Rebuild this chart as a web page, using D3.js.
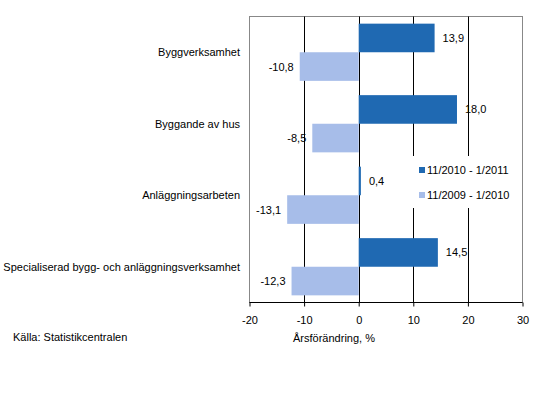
<!DOCTYPE html>
<html>
  <head>
    <meta charset="utf-8" />
    <script src="https://d3js.org/d3.v7.min.js"></script>
    <style>
      body { margin: 0; background: #fff; }
      text { font-family: "Liberation Sans", Arial, sans-serif; font-size: 11px; fill: #000; }
    </style>
  </head>
  <body>
    <svg id="chart"></svg>

    <script>
      // chart data
      var categories = [
        "Byggverksamhet",
        "Byggande av hus",
        "Anläggningsarbeten",
        "Specialiserad bygg- och anläggningsverksamhet",
      ];
      var seriesNames = ["11/2010 - 1/2011", "11/2009 - 1/2010"];
      var values2011 = [13.9, 18.0, 0.4, 14.5];
      var values2010 = [-10.8, -8.5, -13.1, -12.3];
      var xTicks = [-20, -10, 0, 10, 20, 30];
      var colors = ["#1f69b2", "#a7bde9"];

      var width = 538;
      var height = 402;
      // plot area edges
      var plotL = 249.5, plotR = 522.5, plotT = 16.5, plotB = 302.5;

      var svg = d3.select("#chart").attr("width", width).attr("height", height);

      var x = d3.scaleLinear().domain([-20, 30]).range([plotL, plotR]);
      var y = d3
        .scaleBand()
        .domain(categories)
        .range([plotT, plotB])
        .paddingInner(0.2)
        .paddingOuter(0.1);
      var sub = d3.scaleBand().domain([0, 1]).range([0, y.bandwidth()]);

      var fmt = (v) => d3.format(".1f")(v).replace(".", ",").replace("−", "-");

      // plot border (gray)
      svg
        .append("rect")
        .attr("x", plotL)
        .attr("y", plotT)
        .attr("width", plotR - plotL)
        .attr("height", plotB - plotT)
        .attr("fill", "none")
        .attr("stroke", "#888")
        .attr("stroke-width", 1);

      // gridlines
      svg
        .append("g")
        .selectAll("line")
        .data(xTicks.filter((t) => t > -20 && t < 30))
        .join("line")
        .attr("x1", (d) => Math.round(x(d)) + 0.5)
        .attr("x2", (d) => Math.round(x(d)) + 0.5)
        .attr("y1", plotT)
        .attr("y2", plotB)
        .attr("stroke", "#000")
        .attr("stroke-width", 1);

      // bars
      var rows = categories.map((c, i) => ({ c: c, vals: [values2011[i], values2010[i]] }));
      var groups = svg
        .append("g")
        .selectAll("g")
        .data(rows)
        .join("g")
        .attr("transform", (d) => "translate(0," + y(d.c) + ")");

      groups
        .selectAll("rect")
        .data((d) => d.vals)
        .join("rect")
        .attr("x", (v) => x(Math.min(0, v)))
        .attr("y", (v, j) => sub(j))
        .attr("width", (v) => Math.abs(x(v) - x(0)))
        .attr("height", sub.bandwidth())
        .attr("fill", (v, j) => colors[j]);

      // value labels
      groups
        .selectAll("text.val")
        .data((d) => d.vals)
        .join("text")
        .attr("class", "val")
        .attr("x", (v) => (v >= 0 ? x(v) + 8 : x(v) - 6))
        .attr("y", (v, j) => sub(j) + sub.bandwidth() / 2 + 4)
        .attr("text-anchor", (v) => (v >= 0 ? "start" : "end"))
        .text((v) => fmt(v));

      // category labels
      svg
        .append("g")
        .selectAll("text")
        .data(categories)
        .join("text")
        .attr("x", 240)
        .attr("y", (d) => y(d) + y.bandwidth() / 2 + 4)
        .attr("text-anchor", "end")
        .text((d) => d);

      // x axis
      var xAxis = d3.axisBottom(x).tickValues(xTicks).tickSize(4).tickFormat((d) => String(d));
      var axisG = svg
        .append("g")
        .attr("transform", "translate(0," + plotB + ")")
        .call(xAxis);
      axisG.select(".domain").attr("stroke", "#000").attr("d", "M" + plotL + ",0H" + plotR);
      axisG.selectAll(".tick line").attr("stroke", "#000");
      axisG.selectAll(".tick text").attr("dy", "1.3em").style("font-size", "11px").style("font-family", "Liberation Sans, Arial, sans-serif");

      svg
        .append("text")
        .attr("x", 334)
        .attr("y", 342)
        .attr("text-anchor", "middle")
        .text("Årsförändring, %");

      // legend
      var legend = svg.append("g").attr("transform", "translate(410,156)");
      legend.append("rect").attr("width", 110).attr("height", 52).attr("fill", "#fff");
      seriesNames.forEach((name, i) => {
        legend
          .append("rect")
          .attr("x", 9)
          .attr("y", 11 + i * 25)
          .attr("width", 6)
          .attr("height", 6)
          .attr("fill", colors[i]);
        legend
          .append("text")
          .attr("x", 17)
          .attr("y", 18 + i * 25)
          .text(name);
      });

      // source
      svg.append("text").attr("x", 13).attr("y", 341).text("Källa: Statistikcentralen");
    </script>
  </body>
</html>
